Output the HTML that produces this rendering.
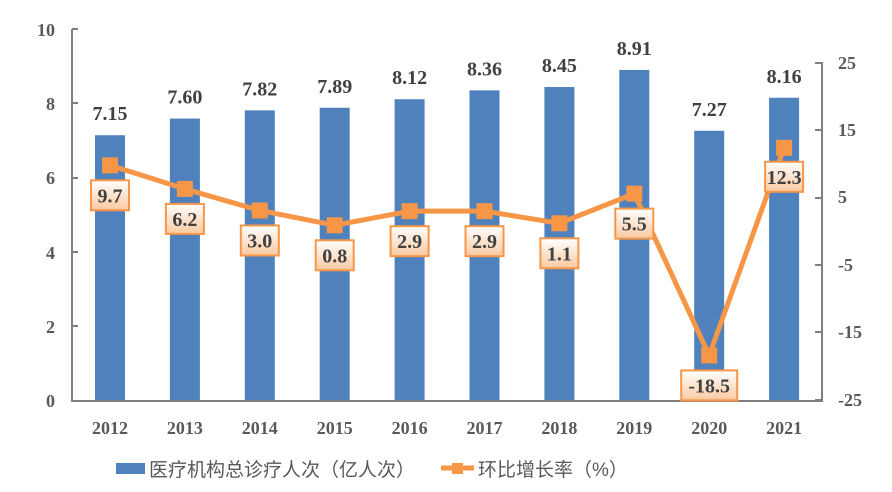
<!DOCTYPE html>
<html><head><meta charset="utf-8"><style>body{margin:0;background:#fff}svg{display:block}</style></head><body>
<svg width="892" height="492" xmlns="http://www.w3.org/2000/svg">
<defs><linearGradient id="g" x1="0" y1="0" x2="0" y2="1"><stop offset="0" stop-color="#fff"/><stop offset="1" stop-color="#fbc9a0"/></linearGradient></defs>
<g font-family="Liberation Serif, serif" font-weight="bold" font-size="18" fill="#595959" text-anchor="end">
<text x="55" y="407">0</text><text x="55" y="333">2</text><text x="55" y="259">4</text><text x="55" y="184">6</text><text x="55" y="110">8</text><text x="55" y="36">10</text>
</g>
<g font-family="Liberation Serif, serif" font-weight="bold" font-size="18" fill="#595959" text-anchor="start">
<text x="838" y="69">25</text><text x="838" y="136">15</text><text x="838" y="203">5</text><text x="838" y="271">-5</text><text x="838" y="338">-15</text><text x="838" y="406">-25</text>
</g>
<g id="bars" fill="#4f81bd"></g>
<g stroke="#7f7f7f" stroke-width="2" fill="none">
<path d="M72 29V401H822V62"/>
<path d="M72 29H78M72 103H78M72 178H78M72 252H78M72 326H78"/>
<path d="M822 63H815M822 130H815M822 198H815M822 265H815M822 332H815M822 400H815"/>
</g>
<g id="fg"></g>
<g font-family="Liberation Sans, 'Noto Sans CJK SC', sans-serif" font-size="19" fill="#595959">
<rect x="116" y="463" width="29" height="11" fill="#4f81bd"/>
<text x="149" y="476">医疗机构总诊疗人次（亿人次）</text>
<line x1="441" y1="468" x2="474" y2="468" stroke="#f79646" stroke-width="5"/>
<rect x="452" y="463" width="11" height="11" fill="#f79646"/>
<text x="478" y="476">环比增长率（%）</text>
</g>
</svg>
<script>
var v=[7.15,7.60,7.82,7.89,8.12,8.36,8.45,8.91,7.27,8.16],r=[9.7,6.2,3.0,0.8,2.9,2.9,1.1,5.5,-18.5,12.3],yr=[2012,2013,2014,2015,2016,2017,2018,2019,2020,2021];
var ns="http://www.w3.org/2000/svg",b=document.getElementById('bars'),f=document.getElementById('fg');
function el(p,t,a,s){var e=document.createElementNS(ns,t);for(var k in a)e.setAttribute(k,a[k]);if(s!=null)e.textContent=s;p.appendChild(e);return e}
var pts=[];
for(var i=0;i<10;i++){var cx=110+i*74.9,bt=400.5-v[i]*37.1;
el(b,'rect',{x:cx-15,y:bt,width:30,height:400.5-bt});
el(f,'text',{x:cx,y:bt-15,'text-anchor':'middle','font-family':'Liberation Serif, serif','font-weight':'bold','font-size':'20',fill:'#404040'},v[i].toFixed(2));
el(f,'text',{x:cx,y:434,'text-anchor':'middle','font-family':'Liberation Serif, serif','font-weight':'bold','font-size':'18',fill:'#595959'},yr[i]);
pts.push([cx,230.7-r[i]*6.74]);}
el(f,'polyline',{points:pts.map(function(p){return p.join(',')}).join(' '),fill:'none',stroke:'#f79646','stroke-width':5,'stroke-linejoin':'round'});
for(i=0;i<10;i++){var p=pts[i];el(f,'rect',{x:p[0]-8,y:p[1]-8,width:16,height:16,fill:'#f79646'});}
for(i=0;i<10;i++){var p=pts[i],w=r[i]<0?56:38,cy=p[1]+30;if(i==9)cy=p[1]+29;
el(f,'rect',{x:p[0]-w/2,y:cy-15,width:w,height:30,fill:'url(#g)',stroke:'#f79646','stroke-width':2});
el(f,'text',{x:p[0],y:cy+7,'text-anchor':'middle','font-family':'Liberation Serif, serif','font-weight':'bold','font-size':'20',fill:'#404040'},r[i].toFixed(1));}
</script>
</body></html>
